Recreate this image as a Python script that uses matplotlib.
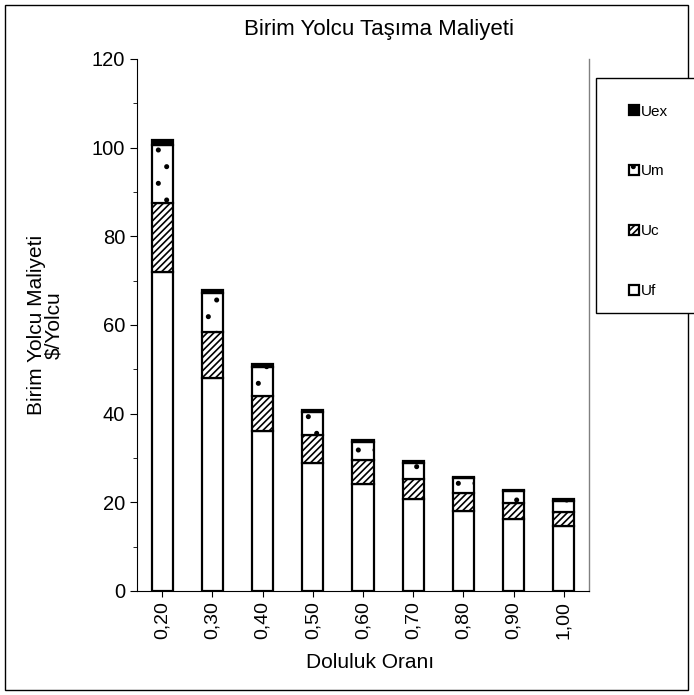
import matplotlib
matplotlib.use("Agg")
import matplotlib.pyplot as plt
from matplotlib.patches import Rectangle
import numpy as np

plt.rcParams['font.family'] = ['Liberation Sans', 'DejaVu Sans']
plt.rcParams['hatch.linewidth'] = 1.2

categories = ["0,20", "0,30", "0,40", "0,50", "0,60", "0,70", "0,80", "0,90", "1,00"]
Uf = [72.0, 48.0, 36.0, 28.8, 24.2, 20.7, 18.0, 16.2, 14.6]
Uc = [15.5, 10.4, 7.9, 6.4, 5.3, 4.6, 4.0, 3.6, 3.2]
Um = [13.0, 8.8, 6.6, 5.2, 4.2, 3.6, 3.4, 2.8, 2.6]
Uex = [1.2, 0.8, 0.6, 0.5, 0.4, 0.35, 0.3, 0.27, 0.24]

W, H = 694, 695
fig = plt.figure(figsize=(W / 100, H / 100), dpi=100)
ax = fig.add_axes([137 / W, 1 - 591 / H, (589 - 137) / W, (591 - 59) / H])

x = np.arange(len(categories))
bw = 0.42
lw = 1.6
b1 = ax.bar(x, Uf, bw, color='white', edgecolor='black', linewidth=lw, label='Uf')
b2 = ax.bar(x, Uc, bw, bottom=Uf, color='white', edgecolor='black', linewidth=lw, hatch='/////', label='Uc')
bot2 = np.array(Uf) + np.array(Uc)
b3 = ax.bar(x, Um, bw, bottom=bot2, color='white', edgecolor='black', linewidth=lw, hatch='.', label='Um')
bot3 = bot2 + np.array(Um)
b4 = ax.bar(x, Uex, bw, bottom=bot3, color='black', edgecolor='black', linewidth=lw, label='Uex')

ax.set_xlim(-0.5, len(categories) - 0.5)
ax.set_ylim(0, 120)
ax.set_yticks(np.arange(0, 121, 20))
ax.set_yticks(np.arange(0, 121, 10), minor=True)
ax.tick_params(axis='y', which='major', direction='out', length=5, labelsize=14.5)
ax.tick_params(axis='y', which='minor', direction='out', length=3)
ax.set_xticks(x)
ax.set_xticklabels(categories, rotation=90, fontsize=14)
ax.tick_params(axis='x', direction='out', length=4)

ax.spines['top'].set_visible(False)
ax.spines['right'].set_color('#808080')
ax.spines['right'].set_linewidth(1.0)

fig.text(379 / W, 1 - 30 / H, "Birim Yolcu Taşıma Maliyeti", ha='center', va='center', fontsize=16)
fig.text(370 / W, 1 - 662 / H, "Doluluk Oranı", ha='center', va='center', fontsize=15)
fig.text(45 / W, 1 - 325 / H, "Birim Yolcu Maliyeti\n$/Yolcu", ha='center', va='center',
         rotation=90, fontsize=15, linespacing=0.9)

# figure border
fig.patches.append(Rectangle((5 / W, 5 / H), 683 / W, 685 / H, transform=fig.transFigure,
                             fill=False, edgecolor='black', linewidth=1.0))
# legend box
fig.patches.append(Rectangle((596 / W, 1 - 313 / H), 110 / W, 235 / H, transform=fig.transFigure,
                             facecolor='white', edgecolor='black', linewidth=1.0, zorder=3))

leg = fig.legend([b4, b3, b2, b1], ['Uex', 'Um', 'Uc', 'Uf'], loc='upper left',
                 bbox_to_anchor=(621 / W, 1 - 97 / H), frameon=False, fontsize=11,
                 handlelength=0.65, handleheight=0.65, handletextpad=0.15, labelspacing=3.0,
                 borderpad=0)
leg.set_zorder(4)

fig.savefig("out.png", dpi=100)
